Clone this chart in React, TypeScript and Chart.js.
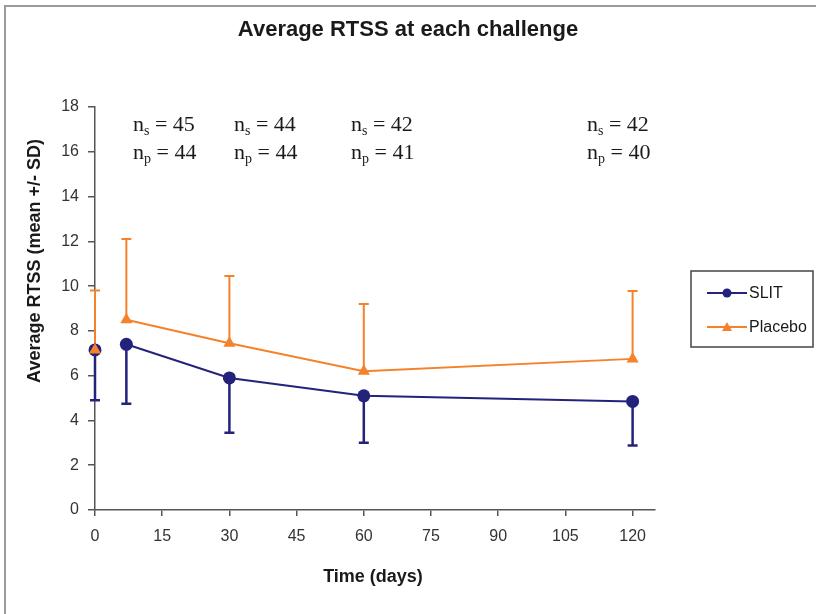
import React, { useEffect, useRef } from "react";
import { Chart, registerables } from "chart.js";

Chart.register(...registerables);

// ---- data ----
const days = [0, 7, 30, 60, 120];
const slitMean = [7.15, 7.4, 5.9, 5.1, 4.85];
const slitLower = [4.9, 4.75, 3.45, 3.0, 2.88];
const placeboMean = [7.15, 8.5, 7.45, 6.2, 6.75];
const placeboUpper = [9.8, 12.1, 10.45, 9.2, 9.78];
const xTicks = [0, 15, 30, 45, 60, 75, 90, 105, 120];
const nSlit = ["45", "44", "42", "42"];
const nPlacebo = ["44", "44", "41", "40"];
const nLabelX = [133, 234, 351, 587];

const SLIT_COLOR = "#23237c";
const PLACEBO_COLOR = "#f5822a";
const SANS = '"Liberation Sans", Arial, sans-serif';
const SERIF = '"Liberation Serif", "Times New Roman", serif';

const decorPlugin = {
  id: "decor",
  beforeDraw(chart: any) {
    const ctx = chart.ctx;
    ctx.save();
    ctx.fillStyle = "#ffffff";
    ctx.fillRect(0, 0, chart.width, chart.height);
    ctx.strokeStyle = "#9a9a9a";
    ctx.lineWidth = 2;
    ctx.beginPath();
    ctx.moveTo(5, chart.height);
    ctx.lineTo(5, 6);
    ctx.lineTo(chart.width, 6);
    ctx.stroke();
    ctx.restore();
  },
  beforeDatasetsDraw(chart: any) {
    const ctx = chart.ctx;
    const xs = chart.scales.x;
    const ys = chart.scales.y;
    const bars = [
      { mean: slitMean, end: slitLower, color: SLIT_COLOR, w: 2.5 },
      { mean: placeboMean, end: placeboUpper, color: PLACEBO_COLOR, w: 2 },
    ];
    ctx.save();
    for (const b of bars) {
      ctx.strokeStyle = b.color;
      ctx.lineWidth = b.w;
      days.forEach((d, i) => {
        const x = xs.getPixelForValue(d);
        const y0 = ys.getPixelForValue(b.mean[i]);
        const y1 = ys.getPixelForValue(b.end[i]);
        ctx.beginPath();
        ctx.moveTo(x, y0);
        ctx.lineTo(x, y1);
        ctx.moveTo(x - 5, y1);
        ctx.lineTo(x + 5, y1);
        ctx.stroke();
      });
    }
    ctx.restore();
  },
  afterDraw(chart: any) {
    const ctx = chart.ctx;
    ctx.save();
    ctx.fillStyle = "#1a1a1a";
    ctx.textAlign = "center";
    ctx.textBaseline = "middle";
    ctx.font = `bold 22px ${SANS}`;
    ctx.fillText("Average RTSS at each challenge", 408, 30);
    ctx.font = `bold 18px ${SANS}`;
    ctx.fillText("Time (days)", 373, 577);
    ctx.save();
    ctx.translate(35, 261);
    ctx.rotate(-Math.PI / 2);
    ctx.fillText("Average RTSS (mean +/- SD)", 0, 0);
    ctx.restore();

    // n annotations
    ctx.textAlign = "left";
    ctx.textBaseline = "alphabetic";
    const drawN = (x: number, y: number, sub: string, val: string) => {
      ctx.font = `22px ${SERIF}`;
      ctx.fillText("n", x, y);
      const w1 = ctx.measureText("n").width;
      ctx.font = `14px ${SERIF}`;
      ctx.fillText(sub, x + w1, y + 4);
      const w2 = ctx.measureText(sub).width;
      ctx.font = `22px ${SERIF}`;
      ctx.fillText(" = " + val, x + w1 + w2, y);
    };
    nLabelX.forEach((x, i) => {
      drawN(x, 131, "s", nSlit[i]);
      drawN(x, 159, "p", nPlacebo[i]);
    });

    // legend
    ctx.strokeStyle = "#444";
    ctx.lineWidth = 1.5;
    ctx.strokeRect(691, 271, 122, 76);
    const items = [
      { label: "SLIT", color: SLIT_COLOR, y: 293, shape: "circle" },
      { label: "Placebo", color: PLACEBO_COLOR, y: 327, shape: "triangle" },
    ];
    for (const it of items) {
      ctx.strokeStyle = it.color;
      ctx.fillStyle = it.color;
      ctx.lineWidth = 2;
      ctx.beginPath();
      ctx.moveTo(707, it.y);
      ctx.lineTo(747, it.y);
      ctx.stroke();
      ctx.beginPath();
      if (it.shape === "circle") {
        ctx.arc(727, it.y, 4.5, 0, Math.PI * 2);
      } else {
        ctx.moveTo(727, it.y - 5);
        ctx.lineTo(732, it.y + 4);
        ctx.lineTo(722, it.y + 4);
        ctx.closePath();
      }
      ctx.fill();
      ctx.fillStyle = "#1a1a1a";
      ctx.font = `16px ${SANS}`;
      ctx.textBaseline = "middle";
      ctx.fillText(it.label, 749, it.y + 1);
    }
    ctx.restore();
  },
};

export default function App() {
  const ref = useRef<HTMLCanvasElement | null>(null);
  useEffect(() => {
    if (!ref.current) return;
    const hideFirst = (color: string) => (c: any) =>
      c.p0DataIndex === 0 ? "rgba(0,0,0,0)" : color;
    const chart = new Chart(ref.current, {
      type: "line",
      data: {
        datasets: [
          {
            label: "SLIT",
            data: days.map((d, i) => ({ x: d, y: slitMean[i] })),
            borderColor: SLIT_COLOR,
            backgroundColor: SLIT_COLOR,
            borderWidth: 2,
            pointStyle: "circle",
            pointRadius: 6.5,
            pointBorderWidth: 0,
            segment: { borderColor: hideFirst(SLIT_COLOR) },
            clip: false,
            order: 2,
          },
          {
            label: "Placebo",
            data: days.map((d, i) => ({ x: d, y: placeboMean[i] })),
            borderColor: PLACEBO_COLOR,
            backgroundColor: PLACEBO_COLOR,
            borderWidth: 2,
            pointStyle: "triangle",
            pointRadius: 7,
            pointBorderWidth: 0,
            segment: { borderColor: hideFirst(PLACEBO_COLOR) },
            clip: false,
            order: 1,
          },
        ],
      },
      options: {
        responsive: false,
        animation: false,
        layout: { padding: { left: 0, right: 161, top: 107, bottom: 54 } },
        plugins: { legend: { display: false }, title: { display: false }, tooltip: { enabled: false } },
        scales: {
          x: {
            type: "linear",
            min: 0,
            max: 125,
            afterBuildTicks: (s: any) => {
              s.ticks = xTicks.map((v) => ({ value: v }));
            },
            afterFit: (s: any) => {
              s.height = 50;
            },
            border: { color: "#555", width: 1.5 },
            grid: { display: true, drawOnChartArea: false, drawTicks: true, tickLength: 6, color: "#555", lineWidth: 1.5 },
            ticks: { color: "#333", font: { family: SANS, size: 16 }, padding: 11, maxRotation: 0, autoSkip: false },
          },
          y: {
            min: 0,
            max: 18,
            afterFit: (s: any) => {
              s.width = 95;
            },
            border: { color: "#555", width: 1.5 },
            grid: { display: true, drawOnChartArea: false, drawTicks: true, tickLength: 7, color: "#555", lineWidth: 1.5 },
            ticks: { stepSize: 2, color: "#333", font: { family: SANS, size: 16 }, padding: 9 },
          },
        },
      },
      plugins: [decorPlugin],
    });
    return () => chart.destroy();
  }, []);
  return (
    <div style={{ position: "absolute", left: 0, top: 0, width: 816, height: 614 }}>
      <canvas ref={ref} width={816} height={614} />
    </div>
  );
}
